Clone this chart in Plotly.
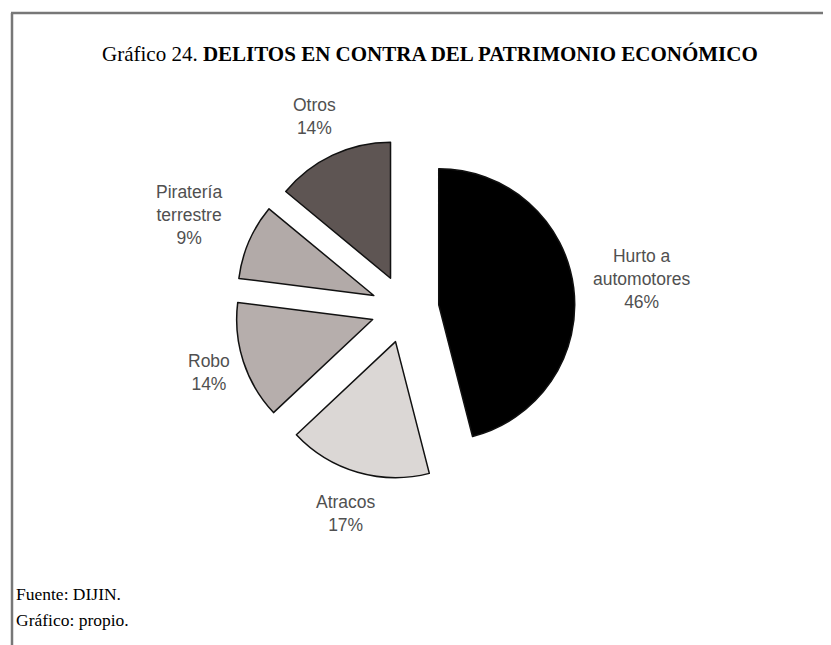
import math
import plotly.graph_objects as go

categories = ["Hurto a automotores", "Atracos", "Robo", "Piratería terrestre", "Otros"]
label_lines = ["Hurto a<br>automotores", "Atracos", "Robo", "Piratería<br>terrestre", "Otros"]
values = [46, 17, 14, 9, 14]
colors = ["#000000", "#dbd7d5", "#b6aeac", "#b2aaa8", "#5e5553"]

W, H = 831, 645
cx_px, cy_px = 397, 301
half = 170

dom_x = [(cx_px - half) / W, (cx_px + half) / W]
dom_y = [1 - (cy_px + half) / H, 1 - (cy_px - half) / H]

fig = go.Figure(go.Pie(
    labels=categories,
    values=values,
    sort=False,
    direction="clockwise",
    rotation=0,
    pull=[0.25] * len(values),
    marker=dict(colors=colors, line=dict(color="#111111", width=1.5)),
    textinfo="none",
    hoverinfo="label+percent",
    showlegend=False,
    domain=dict(x=dom_x, y=dom_y),
))

annotations = []
total = sum(values)
cum = 0
for lab, v in zip(label_lines, values):
    mid = (cum + v / 2) / total * 2 * math.pi
    cum += v
    lines = lab.split("<br>")
    halfW = max(len(s) for s in lines) * 5
    halfH = (len(lines) + 1) * 12
    s, c = math.sin(mid), math.cos(mid)
    d = 180 + abs(s) * halfW + abs(c) * halfH
    px = cx_px + d * s
    py = cy_px - d * c
    pct = round(v / total * 100)
    annotations.append(dict(
        x=px / W, y=1 - py / H, xref="paper", yref="paper",
        text=f"{lab}<br>{pct}%", showarrow=False,
        xanchor="center", yanchor="middle", align="center",
        font=dict(family="Liberation Sans, Arial", size=17.5, color="#505050"),
    ))

annotations.append(dict(
    x=422 / W, y=1 - 46 / H, xref="paper", yref="paper",
    text="Gráfico 24. <b>DELITOS EN CONTRA DEL PATRIMONIO ECONÓMICO</b>",
    showarrow=False, xanchor="center", yanchor="middle",
    font=dict(family="Liberation Serif, Times New Roman", size=21, color="#000000"),
))
annotations.append(dict(
    x=6 / W, y=1 - 586 / H, xref="paper", yref="paper",
    text="Fuente: DIJIN.", showarrow=False, xanchor="left", yanchor="middle",
    font=dict(family="Liberation Serif, Times New Roman", size=17.5, color="#000000"),
))
annotations.append(dict(
    x=6 / W, y=1 - 612 / H, xref="paper", yref="paper",
    text="Gráfico: propio.", showarrow=False, xanchor="left", yanchor="middle",
    font=dict(family="Liberation Serif, Times New Roman", size=17.5, color="#000000"),
))

shapes = [
    dict(type="line", xref="paper", yref="paper", x0=3 / W, x1=1, y0=1 - 5 / H, y1=1 - 5 / H,
         line=dict(color="#777777", width=2.5)),
    dict(type="line", xref="paper", yref="paper", x0=4 / W, x1=4 / W, y0=0, y1=1 - 5 / H,
         line=dict(color="#777777", width=2.5)),
]

fig.update_layout(
    width=W, height=H,
    margin=dict(l=0, r=0, t=0, b=0),
    paper_bgcolor="white", plot_bgcolor="white",
    annotations=annotations, shapes=shapes,
)

fig.write_html("out.html")
